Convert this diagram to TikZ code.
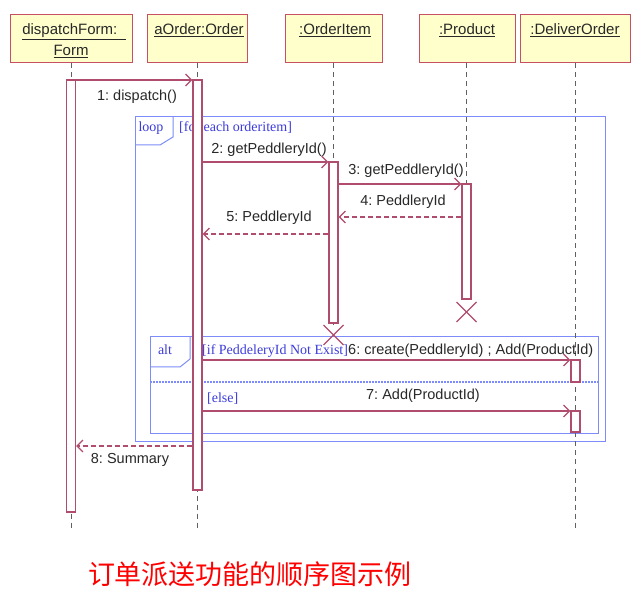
\documentclass[tikz,border=0pt]{standalone}
\usepackage{fontspec}
\setmainfont{Liberation Sans}
\newfontfamily\guardfont{Liberation Serif}
\newfontfamily\cjk{Noto Sans CJK SC}
\usetikzlibrary{arrows.meta}
\frenchspacing
\definecolor{msgc}{RGB}{176,76,110}
\definecolor{hdrborder}{RGB}{200,80,100}
\definecolor{hdrfill}{RGB}{255,255,204}
\definecolor{framec}{RGB}{125,140,250}
\definecolor{guardc}{RGB}{60,60,220}
\definecolor{txtc}{RGB}{40,40,40}
\tikzset{
  hdr/.style={draw=hdrborder, fill=hdrfill, line width=1pt, minimum height=48pt, inner sep=0pt},
  hdrtext/.style={text=txtc, font=\fontsize{15}{18}\selectfont, inner sep=0pt, anchor=base},
  lifeline/.style={draw=gray!75!black, dash pattern=on 5pt off 4pt, line width=1pt},
  actbar/.style={draw=msgc, fill=white, line width=1.2pt, minimum width=9pt, inner sep=0pt},
  msg/.style={draw=msgc, line width=1.2pt, -{Straight Barb[length=6pt,width=12pt]}},
  retmsg/.style={msg, dash pattern=on 5pt off 3pt},
  lbl/.style={text=txtc, font=\fontsize{14.5}{16}\selectfont, inner sep=0pt},
  umlframe/.style={draw=framec, line width=1pt},
  guard/.style={text=guardc, font=\guardfont\fontsize{14}{16}\selectfont, inner sep=0pt},
  destroy/.style={draw=msgc, line width=1.2pt},
}
\begin{document}
\begin{tikzpicture}[x=1pt,y=-1pt]
\useasboundingbox[fill=white] (0,0) rectangle (641,599);

% combined fragments
\draw[umlframe] (135,117) rectangle (605,441);
\draw[umlframe] (135,145) -- (160,145) -- (173,137) -- (173,117);
\node[guard] (loopkw) at (151,128) {loop};
\node[guard, anchor=west] (loopg) at (179,128) {[for each orderitem]};

\draw[umlframe] (150,337) rectangle (598,433);
\draw[umlframe] (150,367) -- (180,367) -- (190,359) -- (190,337);
\draw[framec, line width=1.2pt, dash pattern=on 1.5pt off 1.5pt] (150,382) -- (598,382);
\node[guard] (altkw) at (165,350) {alt};
\node[guard, anchor=west] (altg1) at (202,351) {[if PeddeleryId Not Exist]};
\node[guard, anchor=west] (altg2) at (207,399) {[else]};

% headers
\node[hdr, minimum width=122pt] (hF) at (71,39) {};
\node[hdr, minimum width=100pt] (hO) at (197,39) {};
\node[hdr, minimum width=97pt] (hI) at (333.5,39) {};
\node[hdr, minimum width=96pt] (hP) at (467,39) {};
\node[hdr, minimum width=110pt] (hD) at (575,39) {};
\node[hdrtext] (tF1) at (74,35) {\underline{dispatchForm:\ \ }};
\node[hdrtext] (tF2) at (71,56) {\underline{Form}};
\node[hdrtext] (tO) at (199,35) {\underline{aOrder:Order}};
\node[hdrtext] (tI) at (335,35) {\underline{:OrderItem}};
\node[hdrtext] (tP) at (467,35) {\underline{:Product}};
\node[hdrtext] (tD) at (575,35) {\underline{:DeliverOrder}};

% lifelines
\coordinate (eF) at (71,528);
\coordinate (eO) at (197.5,528);
\coordinate (eI) at (333.5,325);
\coordinate (eP) at (466.5,300);
\coordinate (eD) at (575.5,528);
\draw[lifeline] (hF.south -| eF) -- (eF);
\draw[lifeline] (hO.south -| eO) -- (eO);
\draw[lifeline] (hI.south -| eI) -- (eI);
\draw[lifeline] (hP.south -| eP) -- (eP);
\draw[lifeline] (hD.south -| eD) -- (eD);

% activation bars
\node[actbar, minimum height=432pt] (bF) at (71,296) {};
\node[actbar, minimum height=410pt] (bO) at (197.5,285) {};
\node[actbar, minimum height=161pt] (bI) at (333.5,242.5) {};
\node[actbar, minimum height=115pt] (bP) at (466.5,241.5) {};
\node[actbar, minimum height=22pt] (bD1) at (575.5,371) {};
\node[actbar, minimum height=21pt] (bD2) at (575.5,421.5) {};

% destruction marks
\coordinate (xP) at (466.5,312);
\coordinate (xI) at (333.5,335);
\draw[destroy] ([shift={(-10,-10)}]xP) -- ([shift={(10,10)}]xP);
\draw[destroy] ([shift={(-10,10)}]xP) -- ([shift={(10,-10)}]xP);
\draw[destroy] ([shift={(-10,-10)}]xI) -- ([shift={(10,10)}]xI);
\draw[destroy] ([shift={(-10,10)}]xI) -- ([shift={(10,-10)}]xI);

% messages
\draw[msg] (bF.east |- 0,80) -- (bO.west |- 0,80);
\node[lbl] (l1) at (137,97) {1: dispatch()};
\draw[msg] (bO.east |- 0,162) -- (bI.west |- 0,162);
\node[lbl] (l2) at (269,150) {2: getPeddleryId()};
\draw[msg] (bI.east |- 0,184) -- (bP.west |- 0,184);
\node[lbl] (l3) at (406,171) {3: getPeddleryId()};
\draw[retmsg] (bP.west |- 0,217) -- (bI.east |- 0,217);
\node[lbl] (l4) at (403,202) {4: PeddleryId};
\draw[retmsg] (bI.west |- 0,234) -- (bO.east |- 0,234);
\node[lbl] (l5) at (269,218) {5: PeddleryId};
\draw[msg] (bO.east |- 0,360) -- (bD1.west |- 0,360);
\node[lbl, anchor=west] (l6) at (348,351) {6: create(PeddleryId) ; Add(ProductId)};
\draw[msg] (bO.east |- 0,411) -- (bD2.west |- 0,411);
\node[lbl] (l7) at (423,396) {7: Add(ProductId)};
\draw[retmsg] (bO.west |- 0,446) -- (bF.east |- 0,446);
\node[lbl] (l8) at (130,460) {8: Summary};

% caption
\node[text=red, font=\cjk\fontsize{27}{30}\selectfont, inner sep=0pt] (cap) at (250,574) {订单派送功能的顺序图示例};
\end{tikzpicture}
\end{document}
